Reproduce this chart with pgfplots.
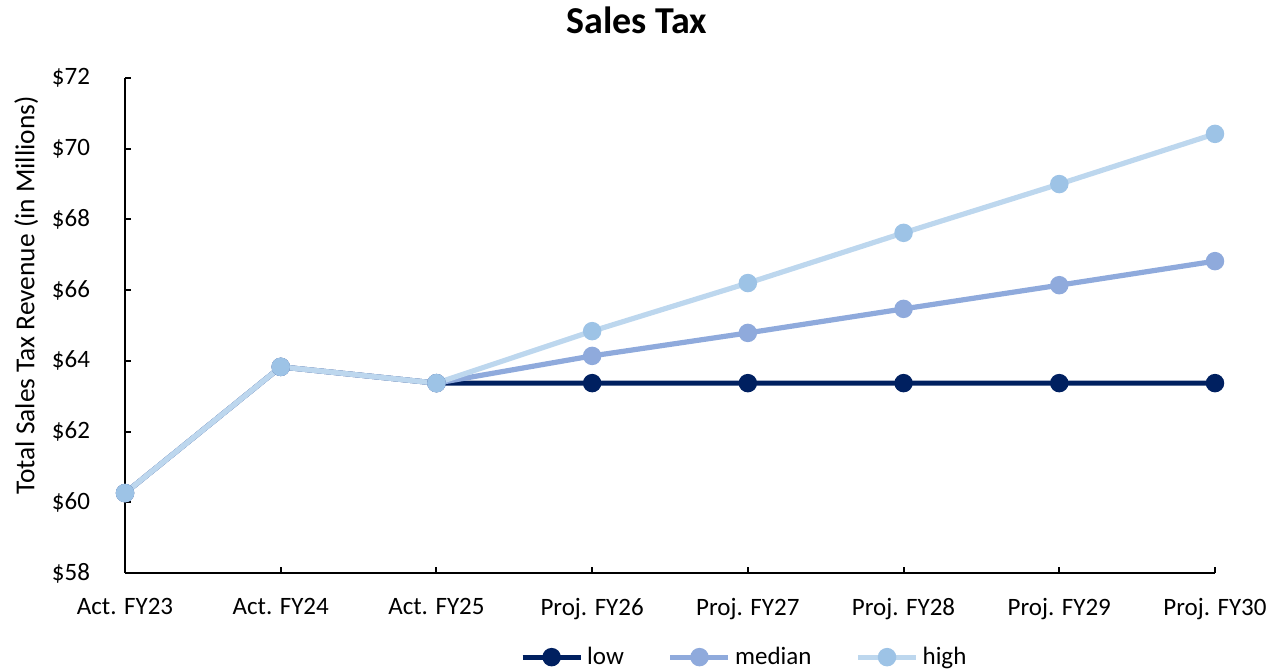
\documentclass[border=0pt]{standalone}
\usepackage{pgfplots}
\pgfplotsset{compat=1.18}
\usepackage{fontspec}
\setmainfont{Carlito}

\definecolor{lowc}{HTML}{002060}
\definecolor{medc}{HTML}{8FAADC}
\definecolor{highc}{HTML}{BDD7EE}
\definecolor{highm}{HTML}{9DC3E6}

\newcommand{\lbl}{\fontsize{12.5bp}{15bp}\selectfont}

\begin{document}
\begin{tikzpicture}
\begin{axis}[
    scale only axis,
    width=545bp, height=247.5bp,
    xmin=0, xmax=7,
    ymin=58, ymax=72,
    axis x line=bottom, axis y line=left,
    axis line style={-, black, line width=1bp},
    xtick={0,...,7},
    xticklabels={Act. FY23, Act. FY24, Act. FY25, Proj. FY26, Proj. FY27, Proj. FY28, Proj. FY29, Proj. FY30},
    ytick={58,60,...,72},
    yticklabel={\$\pgfmathprintnumber{\tick}},
    /pgf/number format/assume math mode=true,
    tick style={black, line width=1bp},
    major tick length=3bp,
    tick align=inside,
    ticklabel style={font=\lbl},
    xticklabel style={yshift=-9bp},
    yticklabel style={xshift=-14bp},
    ylabel={Total Sales Tax Revenue (in Millions)},
    ylabel style={font=\fontsize{13.7bp}{16bp}\selectfont, yshift=0bp, xshift=15bp},
    clip=false,
    legend columns=3,
    legend style={draw=none, font=\lbl, at={(rel axis cs:0.569,-0.17)}, anchor=center,
        /tikz/every even column/.append style={column sep=20bp}},
    legend image code/.code={
        \draw[#1, mark repeat=2, mark phase=2] plot coordinates {(0bp,0bp) (14.5bp,0bp) (29bp,0bp)};
    },
]
\addplot[color=lowc, line width=2.6bp, mark=*, mark size=3.3bp, mark options={fill=lowc, draw=lowc}]
  coordinates {(0,60.26)(1,63.83)(2,63.37)(3,63.37)(4,63.37)(5,63.37)(6,63.37)(7,63.37)};
\addlegendentry{low}
\addplot[color=medc, line width=2.6bp, mark=*, mark size=3.3bp, mark options={fill=medc, draw=medc}]
  coordinates {(0,60.26)(1,63.83)(2,63.37)(3,64.14)(4,64.79)(5,65.47)(6,66.14)(7,66.82)};
\addlegendentry{median}
\addplot[color=highc, line width=2.6bp, mark=*, mark size=3.3bp, mark options={fill=highm, draw=highm}]
  coordinates {(0,60.26)(1,63.83)(2,63.37)(3,64.84)(4,66.20)(5,67.62)(6,69.00)(7,70.42)};
\addlegendentry{high}
\node[font=\fontsize{19bp}{22bp}\selectfont\bfseries] at (rel axis cs:0.4697,1.1172) {Sales Tax};
\coordinate (bl) at (rel axis cs:-0.1147,-0.1939);
\coordinate (tr) at (rel axis cs:1.0523,1.1576);
\end{axis}
\pgfresetboundingbox
\path[use as bounding box] (bl) rectangle (tr);
\end{tikzpicture}
\end{document}
